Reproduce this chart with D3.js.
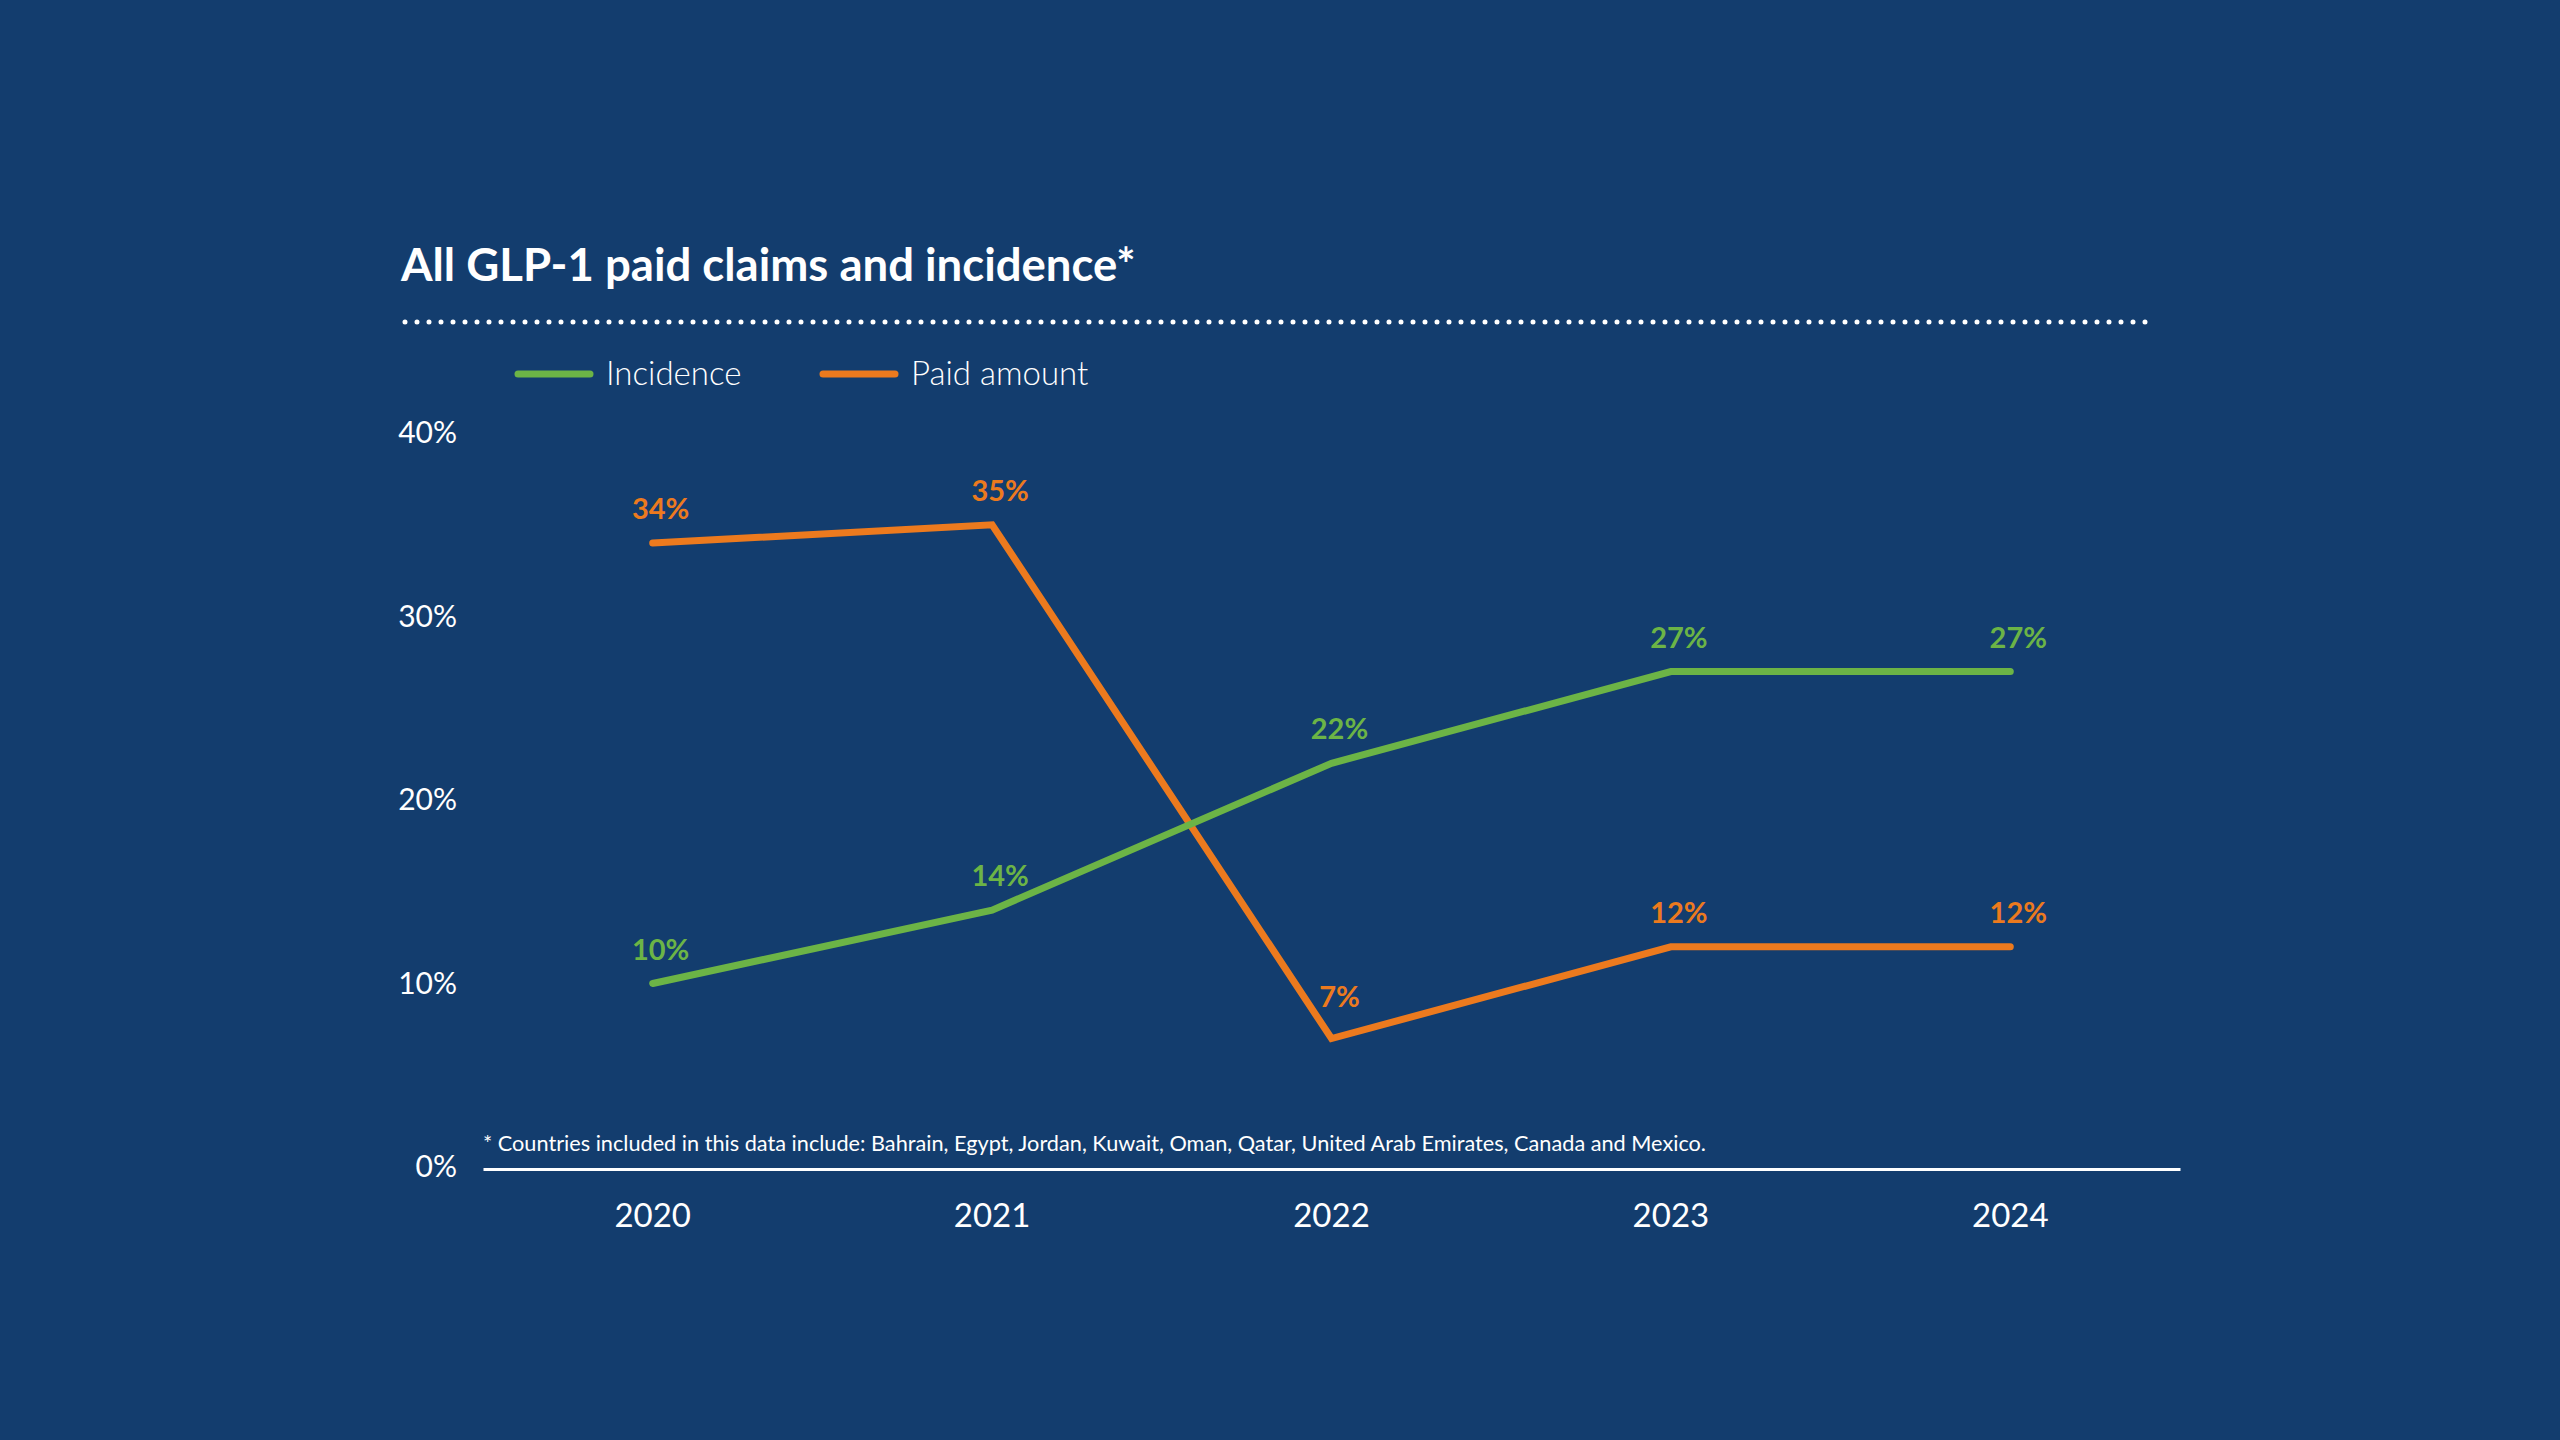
<!DOCTYPE html>
<html>
<head>
<meta charset="utf-8">
<script src="https://cdn.jsdelivr.net/npm/d3@7"></script>
<style>
  html, body { margin: 0; padding: 0; background: #133d6e; }
  svg { display: block; }
  text { font-family: Lato, "Open Sans", sans-serif; }
</style>
</head>
<body>
<svg id="chart" width="2560" height="1440"></svg>
<script>
const years = ["2020", "2021", "2022", "2023", "2024"];
const incidence = [10, 14, 22, 27, 27];
const paidAmount = [34, 35, 7, 12, 12];
const yTicks = [0, 10, 20, 30, 40];
const seriesNames = ["Incidence", "Paid amount"];
const titleText = "All GLP-1 paid claims and incidence*";
const footnoteText = "* Countries included in this data include: Bahrain, Egypt, Jordan, Kuwait, Oman, Qatar, United Arab Emirates, Canada and Mexico.";

const colors = { bg: "#133d6e", green: "#6cb446", orange: "#ec7a1e", white: "#ffffff" };

const svg = d3.select("#chart");
svg.append("rect").attr("width", 2560).attr("height", 1440).attr("fill", colors.bg);

const x = d3.scaleBand().domain(years).range([483, 2180]);
const y = d3.scaleLinear().domain([0, 40]).range([1167, 433]);

// Title
svg.append("text").attr("x", 401).attr("y", 281)
  .attr("fill", colors.white).attr("font-weight", 700).attr("font-size", 45.5)
  .text(titleText);

// Dotted rule
svg.append("line").attr("x1", 405).attr("x2", 2146).attr("y1", 322).attr("y2", 322)
  .attr("stroke", colors.white).attr("stroke-width", 5)
  .attr("stroke-linecap", "round").attr("stroke-dasharray", "0 12");

// Legend
const legend = [
  { name: seriesNames[0], color: colors.green, x: 518 },
  { name: seriesNames[1], color: colors.orange, x: 823 }
];
legend.forEach(l => {
  svg.append("line").attr("x1", l.x).attr("x2", l.x + 72).attr("y1", 374).attr("y2", 374)
    .attr("stroke", l.color).attr("stroke-width", 7).attr("stroke-linecap", "round");
  svg.append("text").attr("x", l.x + 88).attr("y", 385)
    .attr("fill", colors.white).attr("font-size", 33).attr("font-weight", 300)
    .text(l.name);
});

// Y axis (labels only)
const yAxis = d3.axisLeft(y).tickValues(yTicks).tickFormat(d => d + "%").tickSize(0).tickPadding(0);
const gy = svg.append("g").attr("transform", "translate(457,0)").call(yAxis);
gy.select(".domain").remove();
gy.selectAll("text").attr("fill", colors.white).attr("font-size", 30)
  .attr("font-family", "Lato, sans-serif").attr("font-weight", 400);

// X axis
const xAxis = d3.axisBottom(x).tickSize(0).tickPadding(0);
const gx = svg.append("g").attr("transform", `translate(0,${y(0) + 2})`).call(xAxis);
gx.select(".domain").attr("stroke", colors.white).attr("stroke-width", 3);
gx.selectAll("text").attr("fill", colors.white).attr("font-size", 33)
  .attr("font-family", "Lato, sans-serif").attr("font-weight", 400)
  .attr("dy", 0).attr("y", 58);

// Footnote
svg.append("text").attr("x", 483).attr("y", 1151)
  .attr("fill", colors.white).attr("font-size", 21.7).attr("font-weight", 400)
  .text(footnoteText);

// Lines
const line = d3.line().x((d, i) => x(years[i]) + x.bandwidth() / 2).y(d => y(d));
const series = [
  { values: paidAmount, color: colors.orange },
  { values: incidence, color: colors.green }
];
series.forEach(s => {
  svg.append("path").datum(s.values).attr("d", line)
    .attr("fill", "none").attr("stroke", s.color).attr("stroke-width", 7)
    .attr("stroke-linecap", "round").attr("stroke-linejoin", "miter");
});
series.forEach(s => {
  svg.append("g").selectAll("text").data(s.values).join("text")
    .attr("x", (d, i) => x(years[i]) + x.bandwidth() / 2 + 8)
    .attr("y", (d, i) => y(d) - (i > 0 && s.values[i - 1] > d && (i === s.values.length - 1 || s.values[i + 1] > d) ? 32 : 24))
    .attr("text-anchor", "middle")
    .attr("fill", s.color).attr("font-size", 29).attr("font-weight", 700)
    .text(d => d + "%");
});
</script>
</body>
</html>
